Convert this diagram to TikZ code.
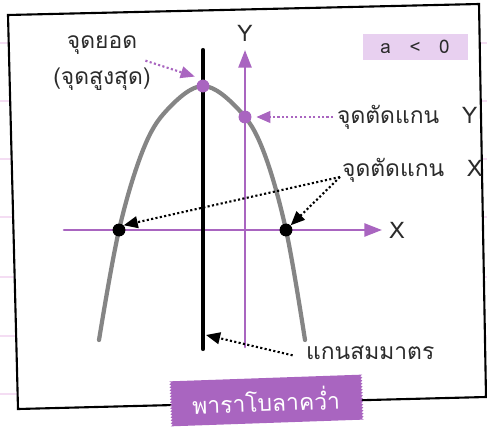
\documentclass[tikz,border=0pt]{standalone}
\usepackage{fontspec}
\setmainfont{Loma}[Script=Thai]
\usetikzlibrary{arrows.meta, positioning, calc}
\definecolor{parapurple}{HTML}{A965C0}
\definecolor{paragrey}{HTML}{858585}
\definecolor{notepink}{HTML}{F4DDF3}
\definecolor{signpurple}{HTML}{E8D0F0}
\definecolor{inkgrey}{HTML}{2B2B2B}

\begin{document}
\begin{tikzpicture}[x=0.03cm, y=-0.03cm, line cap=round,
    font=\fontsize{19.5}{30}\selectfont, text=inkgrey,
    dot/.style={circle, inner sep=0pt, minimum size=11pt},
    callout/.style={dotted, line width=1.8pt, line cap=butt},
    tiparrow/.style={-{Triangle[length=12pt, width=10pt]}},
    axisline/.style={parapurple, line width=2.2pt, -{Triangle[length=15pt, width=11pt]}}]
  \useasboundingbox (0,0) rectangle (487,427);
  \foreach \ly in {43,101,159,217,277,336,394}
    \draw[notepink, line width=1.2pt] (0,\ly) -- (487,\ly);
  \draw[black, line width=1.8pt, fill=white] (8,15) -- (479,4) -- (486,397) -- (18,409) -- cycle;

  \coordinate (xstart) at (64,230);
  \coordinate (xend) at (382,230);
  \coordinate (ystart) at (245,347);
  \coordinate (yend) at (245,50);
  \coordinate (symtop) at (203,50);
  \coordinate (symbottom) at (203,349);
  \coordinate (symaim) at (206,335);
  \coordinate (xfork) at (340,177);

  \draw[axisline] (xstart) -- (xend);
  \draw[axisline] (ystart) -- (yend);
  \draw[paragrey, line width=3.6pt] plot[smooth, tension=0.6] coordinates
    {(99,340) (119,230) (143,150) (167,110) (203,86) (239,110) (263,150) (286,230) (305,340)};
  \draw[black, line width=3.5pt] (symtop) -- (symbottom);

  \node[right=6pt of xend, inner sep=0pt] (xlabel) {X};
  \node[above=7pt of yend, inner sep=0pt] (ylabel) {Y};

  \node[dot, fill=parapurple] (vertex) at (203,86) {};
  \node[dot, fill=parapurple] (yint) at (245,117) {};
  \node[dot, fill=black] (xleft) at (119,230) {};
  \node[dot, fill=black] (xright) at (286,230) {};

  \node[align=center] (apex) at (102,63) {จุดยอด\\(จุดสูงสุด)};
  \node[anchor=west] (ycut) at (333,117) {จุดตัดแกน\quad Y};
  \node[anchor=west] (xcut) at (338,170) {จุดตัดแกน\quad X};
  \node[anchor=west] (symlabel) at (302,353) {แกนสมมาตร};
  \node[fill=signpurple, minimum width=3.15cm, minimum height=0.78cm,
        font=\fontsize{16}{18}\selectfont] (sign) at (415,47) {a\quad<\quad0};

  \draw[callout, parapurple, tiparrow] ([xshift=-8pt, yshift=2pt]apex.east) -- ([shift={(-3pt,4pt)}]vertex.north west);
  \draw[callout, parapurple, tiparrow] (ycut.west) -- ([xshift=4pt]yint.east);
  \draw[callout, black, tiparrow] (xfork) -- (xleft.north east);
  \draw[callout, black, tiparrow] (xfork) -- (xright.north east);
  \draw[callout, black, tiparrow] ([xshift=-8pt, yshift=-2pt]symlabel.west) -- (symaim);

  \begin{scope}[rotate around={2:(266,400)}]
    \fill[parapurple] (170,378) -- (363,378)
      \foreach \k in {1,...,15}{ -- ++(-2,1.5) -- ++(2,1.5) }
      -- (170,423)
      \foreach \k in {1,...,15}{ -- ++(2,-1.5) -- ++(-2,-1.5) } -- cycle;
  \end{scope}
  \node[text=white, rotate=2] (tag) at (266,400) {พาราโบลาคว่ำ};
\end{tikzpicture}
\end{document}
